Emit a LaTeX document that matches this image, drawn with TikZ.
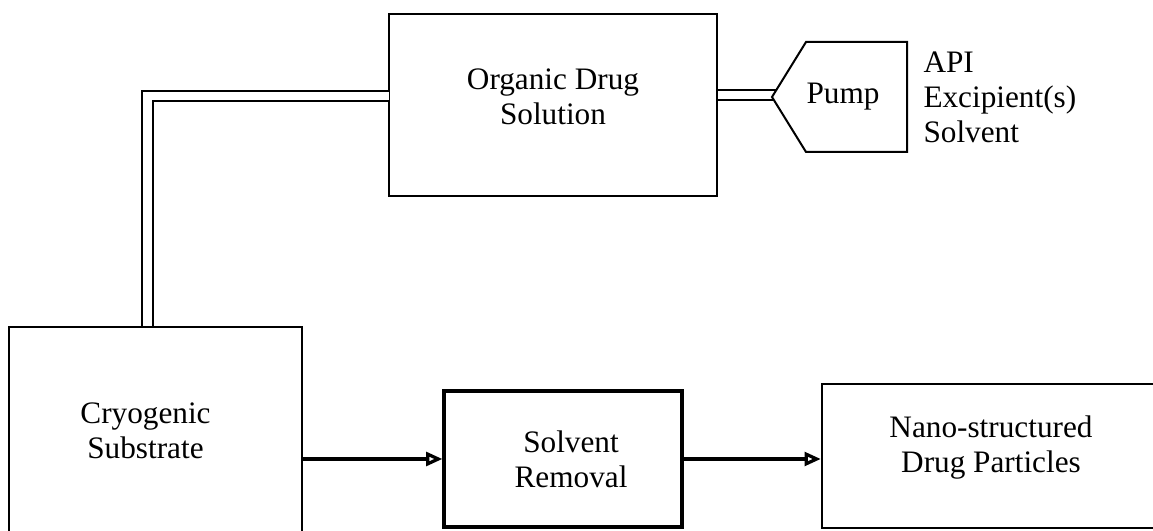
\documentclass[tikz,border=0pt]{standalone}
\usepackage{fontspec}
\setmainfont{Liberation Serif}
\usetikzlibrary{arrows.meta, positioning, calc}

\begin{document}
\begin{tikzpicture}[
  x=0.4pt, y=-0.4pt,
  txt/.style={font=\fontsize{12.5}{14}\selectfont, align=center, inner sep=0pt},
  box/.style={draw, line width=1pt, rectangle, inner sep=0pt},
  pipe/.style={line width=0.8pt},
  flow/.style={line width=1.7pt, -{Triangle[open, length=6.5pt, width=5.5pt, line width=1.3pt]}}
]
\useasboundingbox (0,0) rectangle (1153,531);
\clip (0,0) rectangle (1153,531);

% process boxes
\node[box, minimum width=131.2pt, minimum height=72.8pt,
      label={[txt, yshift=3.2pt]center:Organic Drug\\Solution}] (org) at (553,105) {};
\node[box, line width=0.8pt, minimum width=117.2pt, minimum height=83.2pt,
      label={[txt, xshift=-4pt]center:Cryogenic\\Substrate}] (cryo) at (155.5,431) {};
\node[box, line width=1.3pt, minimum width=95.2pt, minimum height=54.4pt,
      label={[txt, xshift=3.2pt]center:Solvent\\Removal}] (solv) at (563,459) {};
\node[box, minimum width=139.2pt, minimum height=57.6pt,
      label={[txt, xshift=-2pt, yshift=3.2pt]center:Nano-structured\\Drug Particles}] (nano) at (996,456) {};

% pump and its feed
\node[txt] (pump) at (843,97) {Pump};
\draw[line width=0.8pt] (772,97) -- (806,42) -- (907,42) -- (907,152) -- (806,152) -- cycle;
\coordinate (pin1) at (776.3,90);
\coordinate (pin2) at (773.9,100);
\node[txt, anchor=west, align=left] (feed) at (923,97) {API\\Excipient(s)\\Solvent};

% pipes
\draw[pipe] (org.east |- pin1) -- (pin1);
\draw[pipe] (org.east |- pin2) -- (pin2);
\draw[white, line width=1.2pt] ([yshift=5.1pt]org.west) -- ([yshift=2.1pt]org.west);
\draw[pipe] ([yshift=5.6pt]org.west) -| ([xshift=-5.4pt]cryo.north);
\draw[pipe] ([yshift=1.6pt]org.west) -| ([xshift=-1pt]cryo.north);

% flow arrows
\draw[flow] (cryo.east |- solv.west) -- (solv.west);
\draw[flow] (solv.east) -- (solv.east -| nano.west);
\end{tikzpicture}
\end{document}
